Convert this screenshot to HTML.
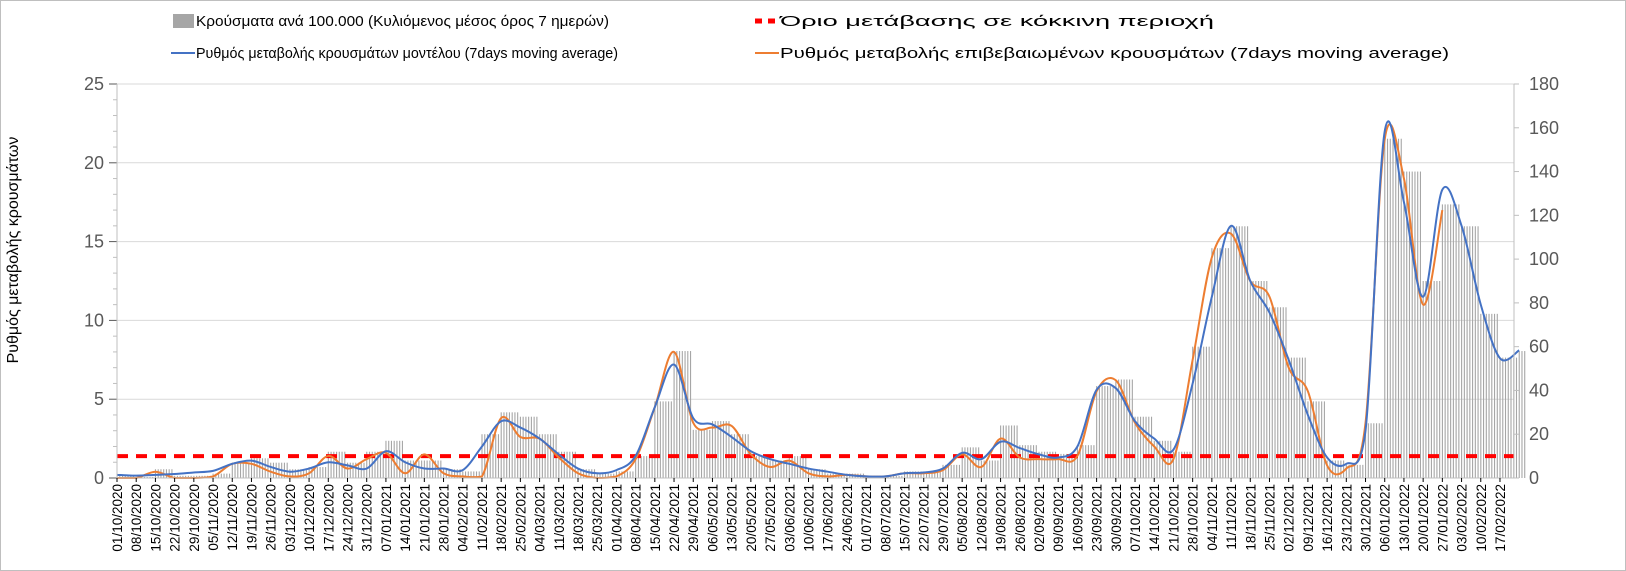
<!DOCTYPE html>
<html><head><meta charset="utf-8"><style>
html,body{margin:0;padding:0;background:#fff;}
svg{display:block;font-family:"Liberation Sans Narrow","Liberation Sans",sans-serif;}
</style></head><body>
<svg id="chart" width="1626" height="571" viewBox="0 0 1626 571" xmlns="http://www.w3.org/2000/svg">
<rect x="0.5" y="0.5" width="1625" height="570" fill="#fff" stroke="#bfbfbf"/>
<g id="legend">
  <g>
    <rect x="173" y="14" width="21" height="14" fill="#a6a6a6"/>
    <text x="196" y="26" font-size="15" fill="#000" textLength="413" lengthAdjust="spacingAndGlyphs">Κρούσματα ανά 100.000 (Κυλιόμενος μέσος όρος 7 ημερών)</text>
  </g>
  <g>
    <line x1="755" y1="21" x2="779" y2="21" stroke="#ff0000" stroke-width="5" stroke-dasharray="7,6"/>
    <text x="780" y="26" font-size="15" fill="#000" textLength="434" lengthAdjust="spacingAndGlyphs">Όριο μετάβασης σε κόκκινη περιοχή</text>
  </g>
  <g>
    <line x1="171" y1="53" x2="195" y2="53" stroke="#4472c4" stroke-width="2"/>
    <text x="196" y="58" font-size="15" fill="#000" textLength="422" lengthAdjust="spacingAndGlyphs">Ρυθμός μεταβολής κρουσμάτων μοντέλου (7days moving average)</text>
  </g>
  <g>
    <line x1="755" y1="53" x2="779" y2="53" stroke="#ed7d31" stroke-width="2"/>
    <text x="780" y="58" font-size="15" fill="#000" textLength="669" lengthAdjust="spacingAndGlyphs">Ρυθμός μεταβολής επιβεβαιωμένων κρουσμάτων (7days moving average)</text>
  </g>
</g>
<text transform="translate(18,250) rotate(-90)" text-anchor="middle" font-size="16" fill="#000">Ρυθμός μεταβολής κρουσμάτων</text>
<g id="grid"></g>
<g id="bars"></g>
<g id="lines"></g>
<g id="axes"></g>
</svg>
<script>
const startDate = [2020, 10, 1];
const leftTicks = [0, 5, 10, 15, 20, 25];
const rightTicks = [0, 20, 40, 60, 80, 100, 120, 140, 160, 180];
const threshold = 10;
// weekly values (week i = 01/10/2020 + 7*i days)
const barsWeekly = [1,0.5,4,1,1,2,7,9,7,4,5,12,7,12,17,8,8,4,3,20,30,28,20,12,4,2,3,10,35,58,22,26,20,10,8,10,4,2,2,1,1,3,3,6,14,8,24,15,12,11,15,42,45,28,17,12,60,105,115,90,78,55,35,8,6,25,155,140,90,125,115,75,55,58];
const modelWeekly = [0.2,0.15,0.2,0.25,0.35,0.45,0.9,1.1,0.7,0.4,0.6,1.0,0.8,0.6,1.7,1.0,0.6,0.6,0.5,2.0,3.6,3.2,2.5,1.5,0.6,0.3,0.5,1.4,4.5,7.2,3.8,3.4,2.6,1.7,1.2,0.9,0.6,0.4,0.2,0.1,0.1,0.3,0.35,0.6,1.6,1.2,2.3,1.9,1.5,1.3,2.0,5.6,5.7,3.6,2.5,1.8,6.0,11.5,16.0,12.5,10.5,7.5,4.0,1.3,0.9,3.0,22.0,17.5,11.5,18.3,16.0,11.0,7.6,8.1];
const confirmedWeekly = [0,0,0.4,0,0,0.1,0.9,0.9,0.4,0.1,0.3,1.4,0.6,1.2,1.6,0.3,1.5,0.3,0.1,0.1,3.8,2.6,2.5,1.3,0.3,0,0.1,1.2,4.5,8.0,3.5,3.2,3.3,1.5,0.7,1.1,0.3,0.1,0.2,0.1,0.1,0.3,0.3,0.5,1.5,0.7,2.5,1.3,1.2,1.2,1.4,5.5,6.2,3.5,2.0,1.2,7.5,14.0,15.5,12.5,11.5,7.0,5.5,0.8,0.6,3.5,21.5,19.0,11.0,17.0];

const NS='http://www.w3.org/2000/svg';
const X0=117, PX_PER_DAY=2.744, Y0=478, YTOP=84, XR=1514;
const LEFT_MAX=25, RIGHT_MAX=180;
const xDay=d=>X0+d*PX_PER_DAY;
const yL=v=>Y0-(v/LEFT_MAX)*(Y0-YTOP);
const yR=v=>Y0-(v/RIGHT_MAX)*(Y0-YTOP);
function mk(tag,attrs,parent){const e=document.createElementNS(NS,tag);for(const k in attrs)e.setAttribute(k,attrs[k]);parent.appendChild(e);return e;}
const grid=document.getElementById('grid'),barsG=document.getElementById('bars'),linesG=document.getElementById('lines'),axes=document.getElementById('axes');

leftTicks.forEach(v=>{
  if(v>0){const g=mk('line',{x1:X0,x2:XR,y1:yL(v),y2:yL(v),stroke:'#d9d9d9','stroke-width':1},grid);
  
  }
  mk('line',{x1:X0-8,x2:X0,y1:yL(v),y2:yL(v),stroke:'#595959'},axes);
  const t=mk('text',{x:X0-13,y:yL(v)+6,'text-anchor':'end','font-size':18,fill:'#595959'},axes);
  t.textContent=v;
  
  
});
for(let v=1;v<LEFT_MAX;v++){ if(v%5) mk('line',{x1:X0-4,x2:X0,y1:yL(v),y2:yL(v),stroke:'#bfbfbf'},axes); }
mk('line',{x1:X0,x2:X0,y1:YTOP,y2:Y0,stroke:'#bfbfbf'},axes);
mk('line',{x1:XR,x2:XR,y1:YTOP,y2:Y0,stroke:'#bfbfbf'},axes);
rightTicks.forEach(v=>{
  mk('line',{x1:XR,x2:XR+5,y1:yR(v),y2:yR(v),stroke:'#bfbfbf'},axes);
  const t=mk('text',{x:XR+15,y:yR(v)+6,'font-size':18,fill:'#595959'},axes);
  t.textContent=v;
  
  
});
mk('line',{x1:X0,x2:XR,y1:Y0,y2:Y0,stroke:'#bfbfbf'},axes);
const base=new Date(startDate[0],startDate[1]-1,startDate[2]);
const pad=n=>String(n).padStart(2,'0');
for(let w=0;w<=72;w++){
  const d=new Date(base.getTime()+w*7*86400000+3600000*12);
  const x=xDay(w*7);
  mk('line',{x1:x,x2:x,y1:Y0,y2:Y0+4,stroke:'#000'},axes);
  const t=mk('text',{transform:`translate(${x+5},${Y0+6}) rotate(-90)`,'text-anchor':'end','font-size':13.5,fill:'#000'},axes);
  t.textContent=`${pad(d.getDate())}/${pad(d.getMonth()+1)}/${d.getFullYear()}`;
  
  
}
const nDays=barsWeekly.length*7-4;
for(let d=0;d<nDays;d++){
  const v=barsWeekly[Math.floor(d/7)];
  const b=mk('rect',{x:xDay(d)-0.5,y:yR(v),width:1.1,height:Y0-yR(v),fill:'#a6a6a6'},barsG);
  
  
}
const th=mk('line',{x1:X0,x2:XR,y1:yR(threshold),y2:yR(threshold),stroke:'#ff0000','stroke-width':4,'stroke-dasharray':'11,8'},linesG);


function smooth(vals){
  const p=vals.map((v,i)=>[xDay(Math.min(i*7,nDays-1)),yL(v)]);
  const c=y=>Math.min(Y0,y);
  let s=`M${p[0][0]},${p[0][1]}`;
  for(let i=0;i<p.length-1;i++){
    const p0=p[Math.max(0,i-1)],p1=p[i],p2=p[i+1],p3=p[Math.min(p.length-1,i+2)];
    s+=` C${p1[0]+(p2[0]-p0[0])/6},${c(p1[1]+(p2[1]-p0[1])/6)} ${p2[0]-(p3[0]-p1[0])/6},${c(p2[1]-(p3[1]-p1[1])/6)} ${p2[0]},${p2[1]}`;
  }
  return s;
}
const oc=mk('path',{d:smooth(confirmedWeekly),fill:'none',stroke:'#ed7d31','stroke-width':2},linesG);


const bl=mk('path',{d:smooth(modelWeekly),fill:'none',stroke:'#4472c4','stroke-width':2},linesG);


</script>
</body></html>
